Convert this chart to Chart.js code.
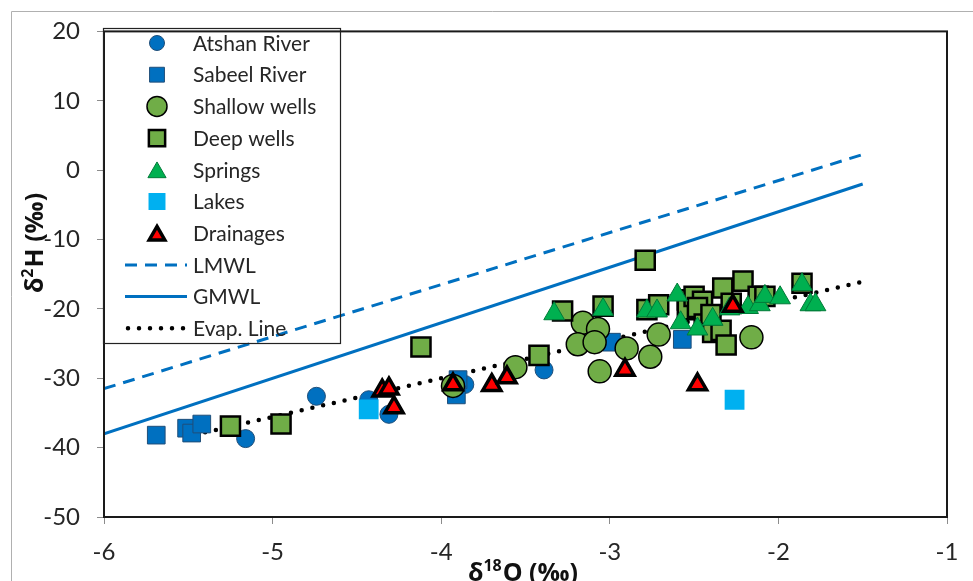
<!DOCTYPE html>
<html>
<head>
<meta charset="utf-8">
<script src="https://cdn.jsdelivr.net/npm/chart.js@4.4.1/dist/chart.umd.min.js"></script>
<style>
    html, body { margin: 0; padding: 0; background: #fff; }
    #wrap { width: 973px; height: 581px; position: relative; }
</style>
</head>
<body>
<div id="wrap"><canvas id="isoChart" width="973" height="581"></canvas></div>
<script>
// Values: [δ18O, δ2H]
const atshanRiver = [[-5.16, -38.7], [-4.74, -32.6], [-4.43, -33.1], [-4.31, -35.2], [-3.86, -30.9], [-3.39, -28.8]];
const sabeelRiver = [[-5.69, -38.2], [-5.51, -37.2], [-5.48, -37.9], [-5.42, -36.6], [-3.90, -30.2], [-3.91, -32.4],
    [-2.99, -24.8], [-2.57, -24.4]];
const shallowWells = [[-3.93, -31.1], [-3.56, -28.4], [-3.16, -22.0], [-3.07, -22.9], [-3.19, -25.1], [-3.09, -24.8],
    [-2.90, -25.7], [-3.06, -29.0], [-2.76, -26.9], [-2.71, -23.7], [-2.16, -24.1]];
const deepWells = [[-5.25, -36.9], [-4.95, -36.6], [-4.12, -25.5], [-3.42, -26.7], [-3.28, -20.3], [-3.04, -19.6],
    [-2.79, -13.0], [-2.78, -20.1], [-2.71, -19.4], [-2.54, -18.7], [-2.54, -20.1], [-2.50, -18.2], [-2.45, -18.9],
    [-2.48, -19.8], [-2.33, -17.0], [-2.21, -16.0], [-2.28, -19.2], [-2.12, -18.2], [-2.08, -18.2], [-1.86, -16.3],
    [-2.44, -22.2], [-2.39, -23.4], [-2.34, -23.1], [-2.31, -25.2], [-2.40, -20.8]];
const springs = [[-3.33, -20.7], [-3.04, -20.1], [-2.78, -20.3], [-2.72, -20.3], [-2.60, -18.0], [-2.58, -22.0],
    [-2.48, -22.9], [-2.39, -21.5], [-2.18, -19.8], [-2.11, -19.4], [-2.08, -18.2], [-1.99, -18.4], [-1.86, -16.5],
    [-1.81, -19.4], [-1.78, -19.4], [-2.29, -20.0]];
const lakes = [[-4.43, -34.5], [-2.26, -33.1]];
const drainages = [[-4.35, -31.8], [-4.31, -31.5], [-4.28, -34.2], [-3.93, -30.9], [-3.70, -31.0], [-3.61, -29.9],
    [-2.91, -28.8], [-2.48, -30.9], [-2.27, -19.6]];

// line end points
const lmwl = [[-6, -31.5], [-1.5, 2.25]];
const gmwl = [[-6, -38], [-1.5, -2]];
const evapLine = [[-5.4, -37.8], [-1.5, -16.1]];

const xTicks = [-6, -5, -4, -3, -2, -1];
const yTicks = [20, 10, 0, -10, -20, -30, -40, -50];

const toXY = arr => arr.map(p => ({ x: p[0], y: p[1] }));

const BLUE = '#0070C0';
const GREEN = '#70AD47';

function markerSet(label, data, style, order) {
    return {
        type: 'scatter',
        label: label,
        data: toXY(data),
        order: order,
        pointStyle: style.shape,
        pointRadius: style.radius,
        pointBackgroundColor: style.fill,
        pointBorderColor: style.stroke,
        pointBorderWidth: style.width,
        pointHoverRadius: style.radius
    };
}

function lineSet(label, data, style, order) {
    return {
        type: 'line',
        label: label,
        data: toXY(data),
        order: order,
        borderColor: style.color,
        borderWidth: style.width,
        borderDash: style.dash,
        borderCapStyle: style.cap,
        pointRadius: 0,
        fill: false,
        tension: 0
    };
}

const styles = {
    atshan:  { shape: 'circle', radius: 9, fill: BLUE, stroke: '#1F4E79', width: 1 },
    sabeel:  { shape: 'rect', radius: 12.5, fill: BLUE, stroke: '#1F4E79', width: 1 },
    shallow: { shape: 'circle', radius: 11.5, fill: GREEN, stroke: '#000', width: 1.5 },
    deep:    { shape: 'rect', radius: 13.5, fill: GREEN, stroke: '#000', width: 2.5 },
    springs: { shape: 'triangle', radius: 12, fill: '#00B050', stroke: '#007A38', width: 1 },
    lakes:   { shape: 'rect', radius: 14, fill: '#00B0F0', stroke: '#00B0F0', width: 0 },
    drain:   { shape: 'triangle', radius: 10.5, fill: '#FF0000', stroke: '#000', width: 3.5 },
    lmwl:    { color: BLUE, width: 3, dash: [12, 8], cap: 'butt' },
    gmwl:    { color: BLUE, width: 3, dash: [], cap: 'butt' },
    evap:    { color: '#000', width: 4.5, dash: [0, 11], cap: 'round' }
};

const legendEntries = [
    { text: 'Atshan River', key: 'atshan' },
    { text: 'Sabeel River', key: 'sabeel' },
    { text: 'Shallow wells', key: 'shallow' },
    { text: 'Deep wells', key: 'deep' },
    { text: 'Springs', key: 'springs' },
    { text: 'Lakes', key: 'lakes' },
    { text: 'Drainages', key: 'drain' },
    { text: 'LMWL', key: 'lmwl', line: true },
    { text: 'GMWL', key: 'gmwl', line: true },
    { text: 'Evap. Line', key: 'evap', line: true }
];

function drawMarker(ctx, s, x, y) {
    ctx.save();
    ctx.fillStyle = s.fill;
    ctx.strokeStyle = s.stroke;
    ctx.lineWidth = s.width;
    ctx.beginPath();
    if (s.shape === 'circle') {
        ctx.arc(x, y, s.radius - 1.5, 0, Math.PI * 2);
    } else if (s.shape === 'rect') {
        const h = (s.radius - 2) * Math.SQRT1_2;
        ctx.rect(x - h, y - h, 2 * h, 2 * h);
    } else {
        const r = s.radius - 1.5;
        y += r / 4;
        ctx.moveTo(x, y - r);
        ctx.lineTo(x + r * Math.sin(2 * Math.PI / 3), y - r * Math.cos(2 * Math.PI / 3));
        ctx.lineTo(x + r * Math.sin(4 * Math.PI / 3), y - r * Math.cos(4 * Math.PI / 3));
        ctx.closePath();
    }
    ctx.fill();
    if (s.width > 0) ctx.stroke();
    ctx.restore();
}

function drawSupTitle(ctx, a, sup, b, cx, y) {
    const big = 'bold 25px "Open Sans"';
    const small = 'bold 16px "Open Sans"';
    ctx.font = big;
    const wa = ctx.measureText(a).width;
    const wb = ctx.measureText(b).width;
    ctx.font = small;
    const ws = ctx.measureText(sup).width;
    let x = cx - (wa + ws + wb + 1) / 2;
    ctx.textAlign = 'left';
    ctx.font = big;
    ctx.fillText(a, x, y);
    x += wa;
    ctx.font = small;
    ctx.fillText(sup, x, y - 10);
    x += ws + 1;
    ctx.font = big;
    ctx.fillText(b, x, y);
}

// box around the plot, legend, axis titles, outer frame
const decorPlugin = {
    id: 'decor',
    afterDatasetsDraw(chart) {
        const { ctx, chartArea: a } = chart;
        ctx.save();
        ctx.strokeStyle = '#1a1a1a';
        ctx.lineWidth = 2;
        ctx.strokeRect(a.left, a.top, a.right - a.left, a.bottom - a.top);

        // legend (no fill, lines show through)
        ctx.strokeStyle = '#222';
        ctx.lineWidth = 1.2;
        ctx.strokeRect(103.5, 28.5, 237, 315);
        ctx.font = '21px Lato';
        ctx.fillStyle = '#262626';
        ctx.textBaseline = 'middle';
        legendEntries.forEach((e, i) => {
            const y = 43 + i * 31.7;
            const s = styles[e.key];
            if (e.line) {
                ctx.save();
                ctx.strokeStyle = s.color;
                ctx.lineWidth = s.width;
                ctx.setLineDash(s.dash);
                ctx.lineCap = s.cap;
                ctx.beginPath();
                ctx.moveTo(e.key === 'evap' ? 128 : 125, y);
                ctx.lineTo(187, y);
                ctx.stroke();
                ctx.restore();
            } else {
                drawMarker(ctx, s, 157, y);
            }
            ctx.fillText(e.text, 193, y + 1);
        });

        // axis titles
        ctx.fillStyle = '#111';
        ctx.textBaseline = 'alphabetic';
        drawSupTitle(ctx, 'δ', '18', 'O (‰)', 523, 581);
        ctx.translate(43, 243);
        ctx.rotate(-Math.PI / 2);
        drawSupTitle(ctx, 'δ', '2', 'H (‰)', 0, 0);
        ctx.restore();

        ctx.save();
        ctx.strokeStyle = '#b0b0b0';
        ctx.lineWidth = 1;
        ctx.beginPath();
        ctx.moveTo(11.5, 600);
        ctx.lineTo(11.5, 11.5);
        ctx.lineTo(973, 11.5);
        ctx.stroke();
        ctx.restore();
    }
};

const tickFont = { family: 'Lato', size: 24 };

new Chart(document.getElementById('isoChart'), {
    data: {
        datasets: [
            markerSet('Atshan River', atshanRiver, styles.atshan, 7),
            markerSet('Sabeel River', sabeelRiver, styles.sabeel, 6),
            markerSet('Shallow wells', shallowWells, styles.shallow, 5),
            markerSet('Deep wells', deepWells, styles.deep, 4),
            markerSet('Springs', springs, styles.springs, 3),
            markerSet('Lakes', lakes, styles.lakes, 2),
            markerSet('Drainages', drainages, styles.drain, 1),
            lineSet('LMWL', lmwl, styles.lmwl, 8),
            lineSet('GMWL', gmwl, styles.gmwl, 9),
            lineSet('Evap. Line', evapLine, styles.evap, 10)
        ]
    },
    options: {
        responsive: false,
        animation: false,
        layout: { padding: { top: 25, right: 26, left: 0, bottom: 0 } },
        plugins: {
            legend: { display: false },
            tooltip: { enabled: false }
        },
        scales: {
            x: {
                type: 'linear',
                min: -6,
                max: -1,
                afterBuildTicks: s => { s.ticks = xTicks.map(v => ({ value: v })); },
                afterFit: s => { s.height = 64; },
                ticks: { font: tickFont, color: '#262626', padding: 14, maxRotation: 0 },
                grid: { drawOnChartArea: false, color: '#8c8c8c', tickLength: 7 },
                border: { display: false }
            },
            y: {
                type: 'linear',
                min: -50,
                max: 20,
                afterBuildTicks: s => { s.ticks = yTicks.map(v => ({ value: v })); },
                afterFit: s => { s.width = 104; },
                ticks: { font: tickFont, color: '#262626', padding: 17 },
                grid: { drawOnChartArea: false, color: '#8c8c8c', tickLength: 7 },
                border: { display: false }
            }
        }
    },
    plugins: [decorPlugin]
});
</script>
</body>
</html>
